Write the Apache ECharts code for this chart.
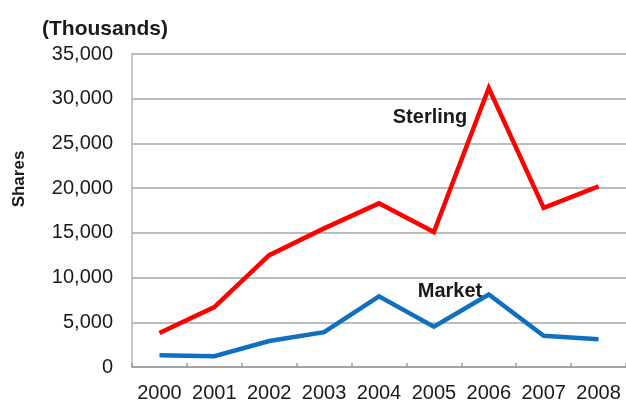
<!DOCTYPE html>
<html>
<head>
<meta charset="utf-8">
<style>
  html, body { margin: 0; padding: 0; background: #fff; }
  #chart { width: 626px; height: 401px; }
</style>
<script src="https://cdn.jsdelivr.net/npm/echarts@6/dist/echarts.min.js"></script>
</head>
<body>
<div id="chart"></div>
<script>
// Annual share volume, in thousands
const years = ['2000', '2001', '2002', '2003', '2004', '2005', '2006', '2007', '2008'];
const sterling = [3800, 6700, 12500, 15500, 18300, 15100, 31200, 17800, 20200];
const market = [1300, 1200, 2900, 3900, 7900, 4500, 8100, 3500, 3100];
const yTicks = [0, 5000, 10000, 15000, 20000, 25000, 30000, 35000];

const FONT = '"Liberation Sans", Arial, sans-serif';
const chart = echarts.init(document.getElementById('chart'), null, { renderer: 'canvas' });

chart.setOption({
  animation: false,
  backgroundColor: '#ffffff',
  textStyle: { fontFamily: FONT },
  grid: { left: 132, right: 0, top: 54, bottom: 34, containLabel: false, outerBoundsMode: 'none' },
  title: {
    text: '(Thousands)',
    left: 37, top: 14,
    textStyle: { fontFamily: FONT, fontSize: 21, fontWeight: 'bold', color: '#1a1a1a' }
  },
  xAxis: {
    type: 'category',
    data: years,
    boundaryGap: true,
    axisLine: { lineStyle: { color: '#9a9a9a', width: 1.5 } },
    axisTick: { show: true, inside: true, length: 4, lineStyle: { color: '#9a9a9a', width: 1.5 } },
    axisLabel: { interval: 0, fontFamily: FONT, fontSize: 20, color: '#1a1a1a', margin: 16 }
  },
  yAxis: {
    type: 'value',
    min: yTicks[0],
    max: yTicks[yTicks.length - 1],
    interval: 5000,
    axisLine: { show: true, lineStyle: { color: '#b5b5b5', width: 1.5 } },
    axisTick: { show: false },
    splitLine: { show: true, lineStyle: { color: '#a6a6a6', width: 1.6 } },
    axisLabel: {
      fontFamily: FONT, fontSize: 20, color: '#1a1a1a', margin: 19,
      formatter: v => v.toLocaleString('en-US')
    }
  },
  series: [
    {
      name: 'Sterling',
      type: 'line',
      data: sterling,
      symbol: 'none',
      lineStyle: { color: '#ff0000', width: 4.5, join: 'miter' },
      itemStyle: { color: '#ff0000' },
      z: 3
    },
    {
      name: 'Market',
      type: 'line',
      data: market,
      symbol: 'none',
      lineStyle: { color: '#1070c0', width: 4.5, join: 'miter' },
      itemStyle: { color: '#1070c0' },
      z: 3
    }
  ],
  graphic: [
    {
      type: 'text', x: 19, y: 179, rotation: Math.PI / 2,
      style: { text: 'Shares', font: 'bold 17px ' + FONT, fill: '#1a1a1a', align: 'center', verticalAlign: 'middle' }
    },
    {
      type: 'text', x: 430, y: 117,
      style: { text: 'Sterling', font: 'bold 20px ' + FONT, fill: '#1a1a1a', align: 'center', verticalAlign: 'middle' }
    },
    {
      type: 'text', x: 450, y: 291,
      style: { text: 'Market', font: 'bold 20px ' + FONT, fill: '#1a1a1a', align: 'center', verticalAlign: 'middle' }
    }
  ]
});
</script>
</body>
</html>
